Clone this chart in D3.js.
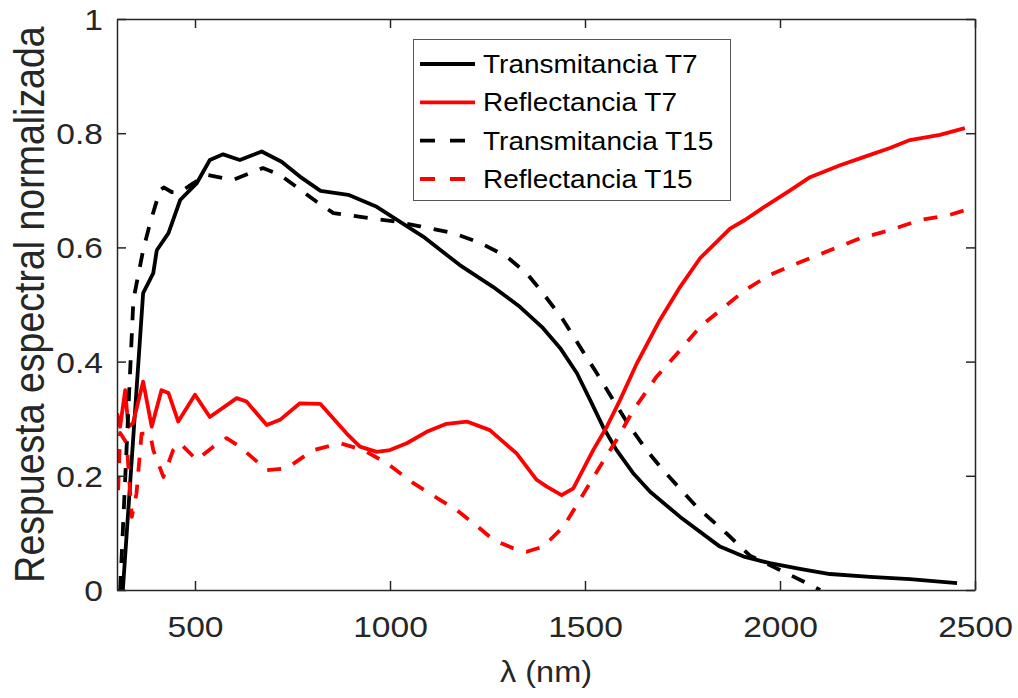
<!DOCTYPE html>
<html><head><meta charset="utf-8">
<script src="https://cdn.jsdelivr.net/npm/d3@7"></script>
<style>body{margin:0;background:#fff}svg{display:block}</style>
</head><body><svg id="c" width="1018" height="698"></svg>
<script>
const xTicks = [500, 1000, 1500, 2000, 2500];
const yTicks = [0, 0.2, 0.4, 0.6, 0.8, 1];
const yTickLabels = ["0", "0.2", "0.4", "0.6", "0.8", "1"];
const seriesNames = ["Transmitancia T7", "Reflectancia T7", "Transmitancia T15", "Reflectancia T15"];

const transT7_x = [315,367,393,402,432,462,504,538,572,615,671,722,769,822,893,966,1085,1179,1264,1333,1392,1436,1479,1513,1546,1581,1623,1667,1744,1846,1910,1974,2051,2128,2231,2333,2454];
const transT7_y = [0,0.52,0.555,0.595,0.625,0.683,0.712,0.753,0.763,0.753,0.768,0.75,0.724,0.699,0.692,0.671,0.619,0.569,0.531,0.496,0.459,0.424,0.38,0.333,0.286,0.245,0.205,0.172,0.128,0.076,0.058,0.047,0.037,0.028,0.023,0.019,0.012];

const reflT7_x = [300,308,321,329,341,367,389,414,432,457,500,538,607,632,684,718,769,821,889,923,966,1000,1043,1094,1145,1197,1256,1325,1376,1402,1440,1470,1521,1556,1590,1633,1692,1744,1795,1872,1910,1962,2026,2077,2154,2231,2282,2333,2410,2474];
const reflT7_y = [0.309,0.286,0.35,0.286,0.292,0.365,0.286,0.35,0.345,0.295,0.342,0.303,0.336,0.33,0.289,0.298,0.327,0.326,0.274,0.251,0.242,0.245,0.257,0.277,0.291,0.295,0.28,0.239,0.193,0.181,0.166,0.178,0.245,0.286,0.333,0.397,0.473,0.531,0.581,0.633,0.648,0.672,0.70,0.723,0.744,0.762,0.774,0.788,0.797,0.809];

const transT15_x = [308,342,367,385,410,420,440,462,495,530,597,674,718,812,855,949,1017,1077,1162,1231,1299,1350,1392,1444,1487,1530,1572,1615,1658,1700,1786,1863,1923,2000,2060,2103];
const transT15_y = [0,0.508,0.595,0.643,0.70,0.705,0.697,0.697,0.712,0.727,0.718,0.739,0.727,0.68,0.66,0.651,0.645,0.637,0.625,0.608,0.584,0.555,0.52,0.473,0.426,0.38,0.333,0.286,0.245,0.21,0.146,0.099,0.06,0.035,0.015,0];

const reflT15_x = [303,308,325,338,350,363,385,393,419,444,462,504,547,581,615,684,735,803,872,932,992,1060,1128,1171,1214,1265,1316,1350,1393,1445,1487,1538,1581,1624,1684,1744,1795,1863,1910,1974,2051,2128,2205,2282,2359,2436,2474];
const reflT15_y = [0.175,0.275,0.257,0.128,0.169,0.274,0.274,0.245,0.198,0.245,0.257,0.228,0.251,0.266,0.251,0.21,0.213,0.245,0.257,0.245,0.222,0.187,0.158,0.14,0.117,0.088,0.073,0.067,0.076,0.111,0.158,0.216,0.263,0.315,0.374,0.42,0.461,0.499,0.525,0.552,0.574,0.595,0.616,0.63,0.648,0.657,0.665];

const W = 1018, H = 698;
const m = {left:117, right:43, top:19, bottom:108};
const SX = 1.12; // horizontal text stretch
const svg = d3.select("#c");
const x = d3.scaleLinear().domain([300, 2500]).range([m.left, W - m.right]);
const y = d3.scaleLinear().domain([0, 1]).range([H - m.bottom, m.top]);
const axisColor = "#262626";
const font = "'Liberation Sans', Arial, Helvetica, sans-serif";

svg.append("defs").append("clipPath").attr("id","clip").append("rect")
  .attr("x", m.left).attr("y", m.top).attr("width", W - m.left - m.right).attr("height", H - m.top - m.bottom);
const plotG = svg.append("g");

const series = [
  {xs: transT7_x, ys: transT7_y, color: "#000", dash: null},
  {xs: reflT7_x, ys: reflT7_y, color: "#ff0000", dash: null},
  {xs: transT15_x, ys: transT15_y, color: "#000", dash: "14,13"},
  {xs: reflT15_x, ys: reflT15_y, color: "#ff0000", dash: "14,13"}
];
const line = d3.line().x(d => x(d[0])).y(d => y(d[1]));
series.forEach(s => {
  const pts = s.xs.map((v, i) => [v, s.ys[i]]);
  plotG.append("path").attr("d", line(pts)).attr("fill", "none")
    .attr("stroke", s.color).attr("stroke-width", 3.8)
    .attr("stroke-dasharray", s.dash).attr("stroke-linejoin", "round")
    .attr("clip-path", "url(#clip)");
});

// axes
const tl = 9;
const axB = svg.append("g").attr("transform", `translate(0,${H - m.bottom})`)
  .call(d3.axisBottom(x).tickValues(xTicks).tickSizeInner(-tl).tickSizeOuter(0).tickFormat(d3.format("d")));
const axT = svg.append("g").attr("transform", `translate(0,${m.top})`)
  .call(d3.axisTop(x).tickValues(xTicks).tickSizeInner(-tl).tickSizeOuter(0).tickFormat(""));
const axL = svg.append("g").attr("transform", `translate(${m.left},0)`)
  .call(d3.axisLeft(y).tickValues(yTicks).tickSizeInner(-tl).tickSizeOuter(0)
    .tickFormat((d, i) => yTickLabels[i]));
const axR = svg.append("g").attr("transform", `translate(${W - m.right},0)`)
  .call(d3.axisRight(y).tickValues(yTicks).tickSizeInner(-tl).tickSizeOuter(0).tickFormat(""));
[axB, axT, axL, axR].forEach(a => {
  a.selectAll("path.domain").attr("stroke", axisColor).attr("stroke-width", 1.5);
  a.selectAll(".tick line").attr("stroke", axisColor).attr("stroke-width", 1.5);
  a.selectAll(".tick text").attr("fill", axisColor).style("font-family", font).style("font-size", "30px");
});
axB.selectAll(".tick text").attr("y", 47).attr("dy", null).attr("transform", `scale(${SX},1)`);
axL.selectAll(".tick text").attr("x", -14 / SX).attr("dy", "0.35em").attr("transform", `scale(${SX},1)`);

// axis labels
const xl = svg.append("text").attr("transform", `translate(${(m.left + W - m.right) / 2},682) scale(${SX},1)`)
  .attr("text-anchor", "middle").attr("fill", axisColor)
  .style("font-family", font).style("font-size", "29px");
xl.append("tspan").text("λ");
xl.append("tspan").text(" (nm)");
svg.append("text").attr("transform", `translate(44,${(m.top + H - m.bottom) / 2}) scale(${SX},1) rotate(-90)`)
  .attr("text-anchor", "middle").attr("fill", axisColor)
  .style("font-family", font).style("font-size", "37.5px")
  .text("Respuesta espectral normalizada");

// legend
const lg = svg.append("g");
lg.append("rect").attr("x", 413.5).attr("y", 39.5).attr("width", 317).attr("height", 161)
  .attr("fill", "#fff").attr("stroke", "#555").attr("stroke-width", 1);
const rowY = [64, 102.3, 140.6, 179];
seriesNames.forEach((name, i) => {
  const s = series[i];
  lg.append("line").attr("x1", 420).attr("x2", 475).attr("y1", rowY[i]).attr("y2", rowY[i])
    .attr("stroke", s.color).attr("stroke-width", 3.8).attr("stroke-dasharray", s.dash ? "15,15" : null);
  lg.append("text").attr("transform", `translate(483,${rowY[i] + 9}) scale(${SX},1)`)
    .attr("fill", "#000").style("font-family", font).style("font-size", "25px")
    .text(name);
});
</script></body></html>
